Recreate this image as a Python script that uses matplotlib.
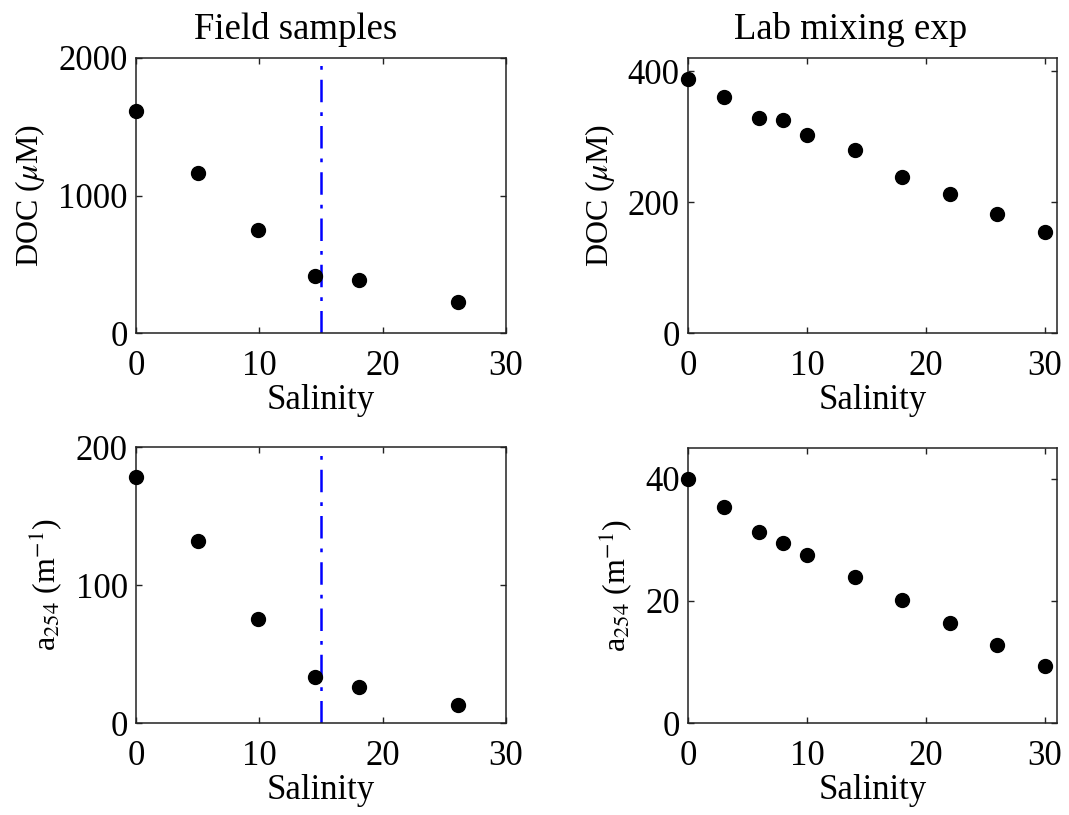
import matplotlib
matplotlib.use("Agg")
import matplotlib.pyplot as plt

plt.rcParams['font.family'] = ['Liberation Serif', 'DejaVu Serif']
plt.rcParams['mathtext.fontset'] = 'stix'

# Field samples
field_sal = [0, 5, 9.9, 14.5, 18.1, 26.1]
field_doc = [1615, 1164, 747, 417, 388, 229]
field_a254 = [178, 132, 75.5, 33, 26, 12.8]
field_divider = 15

# Lab mixing experiment
lab_sal = [0, 3, 6, 8, 10, 14, 18, 22, 26, 30]
lab_doc = [388, 360, 329, 326, 302, 279, 238, 212, 182, 154]
lab_a254 = [40, 35.3, 31.3, 29.5, 27.5, 23.9, 20.2, 16.4, 12.7, 9.4]

titles = ["Field samples", "Lab mixing exp"]
doc_label = r"DOC ($\mu$M)"
a_label = r"a$_{254}$ (m$^{-1}$)"
xlabel = "Salinity"

W, H = 1069, 815
fig = plt.figure(figsize=(W / 100, H / 100), dpi=100)

def ax_at(left, top, right, bottom):
    return fig.add_axes([left / W, 1 - bottom / H, (right - left) / W, (bottom - top) / H])

axes = {
    (0, 0): ax_at(136, 58, 506, 333),
    (0, 1): ax_at(688, 58, 1057, 333),
    (1, 0): ax_at(136, 447, 506, 723),
    (1, 1): ax_at(688, 448, 1057, 723),
}

TICK = 25
XLAB = 25
YLAB = 23
TITLE = 26.5

def style(ax):
    ax.tick_params(direction='in', length=4, width=1, top=True, right=True,
                   labelsize=TICK, color='#222222')
    ax.tick_params(axis='x', pad=12)
    ax.tick_params(axis='y', pad=6)
    for s in ax.spines.values():
        s.set_linewidth(1.1)
        s.set_color('#222222')
    ax.set_xlabel(xlabel, fontsize=XLAB, labelpad=1)

dash = (0, (9, 4, 1.5, 4))

ax = axes[(0, 0)]
ax.plot(field_sal, field_doc, 'o', color='black', markersize=10, clip_on=False, zorder=3)
ax.axvline(field_divider, color='#0000ff', lw=1.8, linestyle=dash, zorder=2)
ax.set_xlim(0, 30)
ax.set_ylim(0, 2000)
ax.set_yticks([0, 1000, 2000])
ax.set_xticks([0, 10, 20, 30])
ax.set_ylabel(doc_label, fontsize=YLAB, labelpad=8)
ax.set_title(titles[0], fontsize=TITLE, pad=14, x=0.432)
style(ax)

ax = axes[(0, 1)]
ax.plot(lab_sal, lab_doc, 'o', color='black', markersize=10, clip_on=False, zorder=3)
ax.set_xlim(0, 31)
ax.set_ylim(0, 420)
ax.set_yticks([0, 200, 400])
ax.set_xticks([0, 10, 20, 30])
ax.set_ylabel(doc_label, fontsize=YLAB, labelpad=8)
ax.set_title(titles[1], fontsize=TITLE, pad=14, x=0.44)
style(ax)

ax = axes[(1, 0)]
ax.plot(field_sal, field_a254, 'o', color='black', markersize=10, clip_on=False, zorder=3)
ax.axvline(field_divider, color='#0000ff', lw=1.8, linestyle=dash, zorder=2)
ax.set_xlim(0, 30)
ax.set_ylim(0, 200)
ax.set_yticks([0, 100, 200])
ax.set_xticks([0, 10, 20, 30])
ax.set_ylabel(a_label, fontsize=YLAB, labelpad=8)
style(ax)

ax = axes[(1, 1)]
ax.plot(lab_sal, lab_a254, 'o', color='black', markersize=10, clip_on=False, zorder=3)
ax.set_xlim(0, 31)
ax.set_ylim(0, 45)
ax.set_yticks([0, 20, 40])
ax.set_xticks([0, 10, 20, 30])
ax.set_ylabel(a_label, fontsize=YLAB, labelpad=8)
style(ax)

fig.savefig("out.png", dpi=100, facecolor='white')
